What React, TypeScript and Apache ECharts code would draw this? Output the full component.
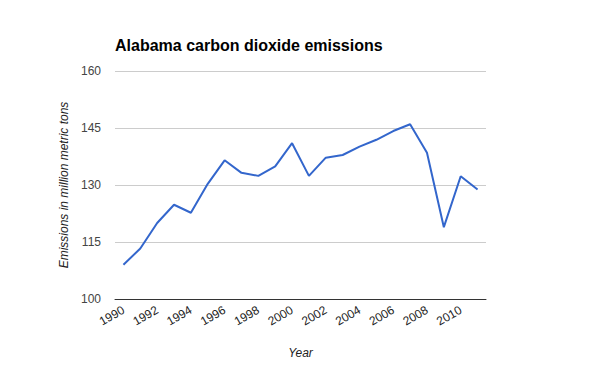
import React, { useEffect, useRef } from "react";
import * as echarts from "echarts";

const years = [
  "1990", "1991", "1992", "1993", "1994", "1995", "1996", "1997", "1998", "1999", "2000",
  "2001", "2002", "2003", "2004", "2005", "2006", "2007", "2008", "2009", "2010", "2011",
];
const emissions = [
  109.0, 113.3, 120.0, 124.8, 122.7, 130.3, 136.5, 133.2, 132.4, 134.9, 141.0,
  132.4, 137.2, 137.9, 140.1, 141.9, 144.2, 146.0, 138.5, 118.9, 132.3, 128.8,
];

export default function App() {
  const ref = useRef<HTMLDivElement>(null);
  useEffect(() => {
    if (!ref.current) return;
    const chart = echarts.init(ref.current, null, { renderer: "svg" });
    chart.setOption({
      animation: false,
      backgroundColor: "#ffffff",
      title: {
        text: "Alabama carbon dioxide emissions",
        left: 110,
        top: 32,
        textStyle: { fontFamily: "Liberation Sans, Arial", fontSize: 16, fontWeight: "bold", color: "#000" },
      },
      grid: { left: 115, right: 114, top: 71, bottom: 72 },
      xAxis: {
        type: "category",
        data: years,
        boundaryGap: true,
        name: "Year",
        nameLocation: "middle",
        nameGap: 48,
        nameTextStyle: { fontFamily: "Liberation Sans, Arial", fontSize: 12, fontStyle: "italic", color: "#222" },
        axisLine: { lineStyle: { color: "#333", width: 1 } },
        axisTick: { show: false },
        axisLabel: {
          interval: 1,
          rotate: 30,
          margin: 10,
          fontFamily: "Liberation Sans, Arial",
          fontSize: 12,
          color: "#222",
        },
      },
      yAxis: {
        type: "value",
        min: 100,
        max: 160,
        interval: 15,
        name: "Emissions in million metric tons",
        nameLocation: "middle",
        nameGap: 40,
        nameTextStyle: { fontFamily: "Liberation Sans, Arial", fontSize: 12, fontStyle: "italic", color: "#222" },
        axisLine: { show: false },
        axisTick: { show: false },
        axisLabel: { fontFamily: "Liberation Sans, Arial", fontSize: 12, color: "#444", margin: 14 },
        splitLine: { lineStyle: { color: "#cccccc", width: 1 } },
      },
      series: [
        {
          type: "line",
          data: emissions,
          showSymbol: false,
          symbol: "none",
          lineStyle: { color: "#3366cc", width: 2 },
          itemStyle: { color: "#3366cc" },
        },
      ],
    });
    return () => chart.dispose();
  }, []);
  return <div ref={ref} style={{ width: 600, height: 371, position: "absolute", left: 0, top: 0 }} />;
}
